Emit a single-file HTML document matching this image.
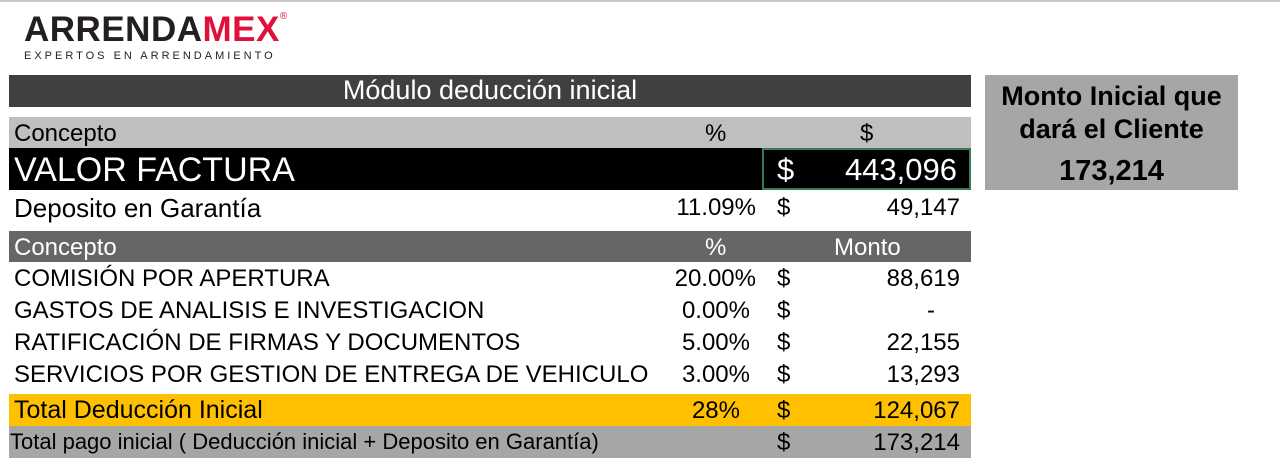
<!DOCTYPE html>
<html><head><meta charset="utf-8"><style>
body{margin:0;width:1280px;height:476px;background:#fff;position:relative;overflow:hidden;font-family:"Liberation Sans",Arial,sans-serif;color:#000}
div{position:absolute;box-sizing:border-box}
.t{white-space:nowrap;line-height:1}
.r{text-align:right}
.f{font-size:24px}
</style></head><body>
<div style="left:0;top:0;width:1280px;height:2px;background:#c8c8c8"></div>
<div class="t" style="left:24px;top:12px;font-size:35px;font-weight:900;letter-spacing:0.5px;color:#231f20">ARRENDA<span style="color:#e0103a">MEX</span><sup style="font-size:10px;color:#e0103a;vertical-align:top;font-weight:400">®</sup></div>
<div class="t" style="left:24px;top:51px;font-size:11px;letter-spacing:3.0px;color:#231f20">EXPERTOS EN ARRENDAMIENTO</div>

<div style="left:9px;top:75px;width:962px;height:32px;background:#404040"></div>
<div class="t" style="left:9px;top:77px;width:962px;text-align:center;font-size:27px;color:#fff">Módulo deducción inicial</div>

<div style="left:9px;top:117px;width:962px;height:31px;background:#bfbfbf"></div>
<div class="t f" style="left:14px;top:122px">Concepto</div>
<div class="t f" style="left:705px;top:122px">%</div>
<div class="t f" style="left:860px;top:122px">$</div>

<div style="left:9px;top:148px;width:962px;height:42px;background:#000"></div>
<div class="t" style="left:14px;top:153px;font-size:34px;color:#fff">VALOR FACTURA</div>
<div style="left:762px;top:148px;width:209px;height:42px;border:2px solid #3c7a55"></div>
<div class="t" style="left:777px;top:154px;font-size:31px;color:#fff">$</div>
<div class="t r" style="left:800px;top:154px;width:157px;font-size:31px;color:#fff">443,096</div>

<div class="t" style="left:14px;top:195px;font-size:26px">Deposito en Garantía</div>
<div class="t r" style="left:630px;top:196px;width:126px" class="f"><span style="font-size:24px">11.09%</span></div>
<div class="t f" style="left:777px;top:196px">$</div>
<div class="t r f" style="left:800px;top:196px;width:160px">49,147</div>

<div style="left:9px;top:231px;width:962px;height:31px;background:#666"></div>
<div class="t f" style="left:14px;top:236px;color:#fff">Concepto</div>
<div class="t f" style="left:705px;top:236px;color:#fff">%</div>
<div class="t f" style="left:834px;top:236px;color:#fff">Monto</div>

<div class="t f" style="left:14px;top:267px">COMISIÓN POR APERTURA</div>
<div class="t r f" style="left:630px;top:267px;width:126px">20.00%</div>
<div class="t f" style="left:777px;top:267px">$</div>
<div class="t r f" style="left:800px;top:267px;width:160px">88,619</div>

<div class="t f" style="left:14px;top:299px">GASTOS DE ANALISIS E INVESTIGACION</div>
<div class="t r f" style="left:630px;top:299px;width:120px">0.00%</div>
<div class="t f" style="left:777px;top:299px">$</div>
<div class="t r f" style="left:800px;top:299px;width:135px">-</div>

<div class="t f" style="left:14px;top:331px">RATIFICACIÓN DE FIRMAS Y DOCUMENTOS</div>
<div class="t r f" style="left:630px;top:331px;width:120px">5.00%</div>
<div class="t f" style="left:777px;top:331px">$</div>
<div class="t r f" style="left:800px;top:331px;width:160px">22,155</div>

<div class="t f" style="left:14px;top:363px">SERVICIOS POR GESTION DE ENTREGA DE VEHICULO</div>
<div class="t r f" style="left:630px;top:363px;width:120px">3.00%</div>
<div class="t f" style="left:777px;top:363px">$</div>
<div class="t r f" style="left:800px;top:363px;width:160px">13,293</div>

<div style="left:9px;top:394px;width:962px;height:32px;background:#ffc000"></div>
<div class="t" style="left:14px;top:398px;font-size:25px">Total Deducción Inicial</div>
<div class="t r f" style="left:630px;top:399px;width:110px">28%</div>
<div class="t f" style="left:777px;top:399px">$</div>
<div class="t r f" style="left:800px;top:399px;width:160px">124,067</div>

<div style="left:9px;top:426px;width:962px;height:32px;background:#a6a6a6"></div>
<div class="t" style="left:10px;top:431px;font-size:22px">Total pago inicial ( Deducción inicial + Deposito en Garantía)</div>
<div class="t f" style="left:777px;top:431px">$</div>
<div class="t r f" style="left:800px;top:431px;width:160px">173,214</div>

<div style="left:985px;top:75px;width:253px;height:115px;background:#a6a6a6"></div>
<div class="t" style="left:985px;top:83px;width:253px;text-align:center;font-size:27px;font-weight:bold">Monto Inicial que</div>
<div class="t" style="left:985px;top:116px;width:253px;text-align:center;font-size:27px;font-weight:bold">dará el Cliente</div>
<div class="t" style="left:985px;top:157px;width:253px;text-align:center;font-size:29px;font-weight:bold">173,214</div>
</body></html>
